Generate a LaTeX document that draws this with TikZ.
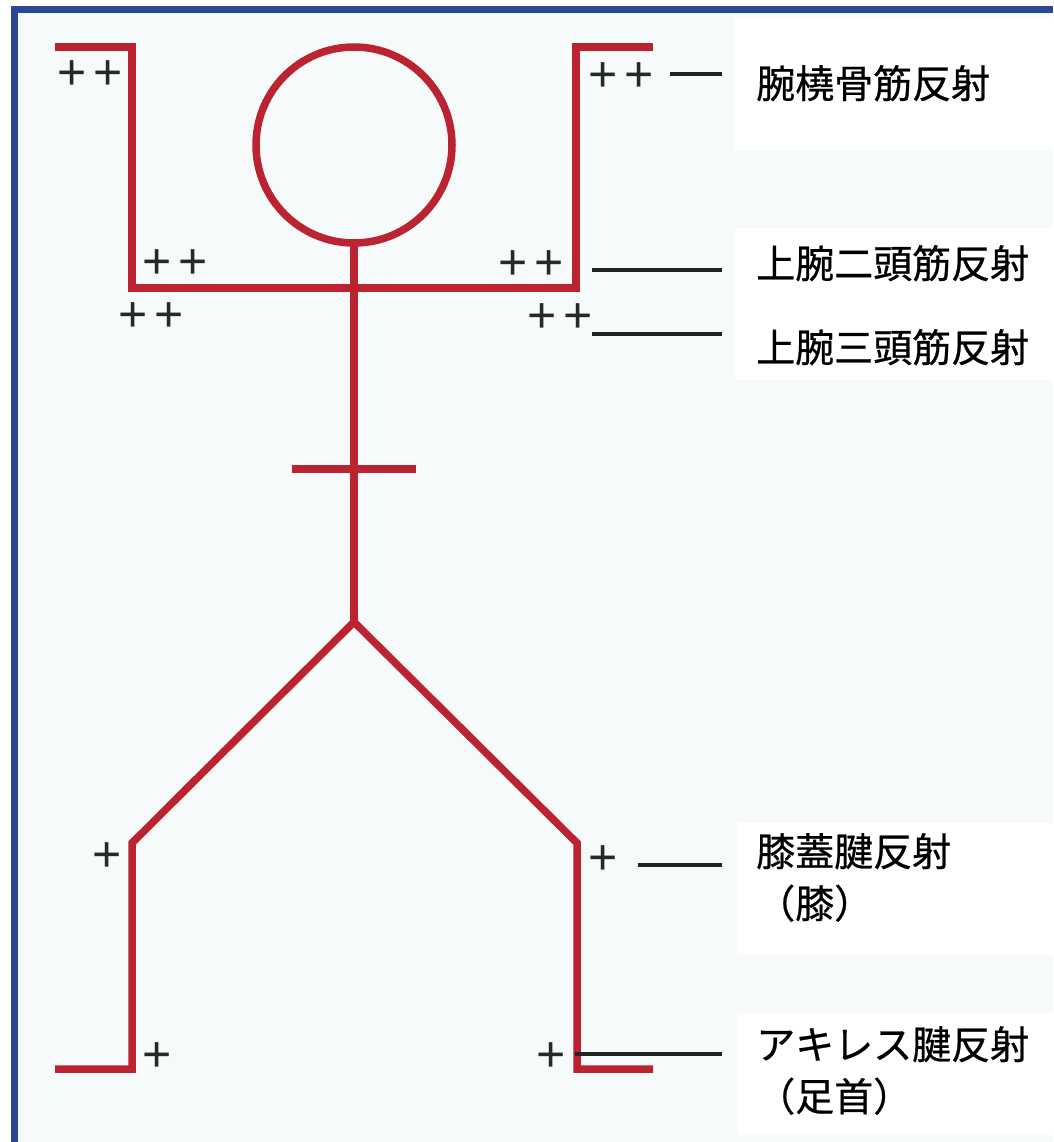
\documentclass[tikz,border=0pt]{standalone}
\usepackage{fontspec}
\newfontfamily\jp[FakeBold=0.6]{Noto Sans CJK JP}
\newfontfamily\plusfont{Liberation Sans}
\definecolor{figred}{RGB}{188,35,48}
\definecolor{frameblue}{RGB}{42,72,150}
\definecolor{bgcol}{RGB}{247,250,251}
\definecolor{leadcol}{RGB}{35,35,35}
\definecolor{pluscol}{RGB}{40,40,40}
\begin{document}
\begin{tikzpicture}[x=1pt,y=-1pt,
  body/.style={draw=figred,line width=7.5pt,line join=miter},
  lead/.style={draw=leadcol,line width=4pt},
  pluses/.style={font=\plusfont\fontsize{50}{50}\selectfont,text=pluscol,inner sep=0pt},
  label/.style={font=\jp\fontsize{39}{52}\selectfont,anchor=base west,inner sep=0pt},
  whitebox/.style={fill=white,draw=none}]
\useasboundingbox (0,0) rectangle (1053,1142);
\fill[white] (0,0) rectangle (1053,1142);
\fill[bgcol] (14,10) rectangle (1053,1142);
% white label panels
\fill[whitebox] (735,17) rectangle (1053,150);
\fill[whitebox] (735,228) rectangle (1053,380);
\fill[whitebox] (737,823) rectangle (1053,955);
\fill[whitebox] (737,1013) rectangle (1053,1135);
% frame
\draw[frameblue,line width=7pt] (14,1142) -- (14,10) -- (1053,10);

% figure
\coordinate (lhand) at (55,47);
\coordinate (lelbow) at (132,47);
\coordinate (lshoulder) at (132,288);
\coordinate (rshoulder) at (576,288);
\coordinate (relbow) at (576,47);
\coordinate (rhand) at (653,47);
\coordinate (headc) at (354,145);
\coordinate (chin) at (354,243);
\coordinate (hip) at (354,622);
\coordinate (waistl) at (292,469);
\coordinate (waistr) at (416,469);
\coordinate (lknee) at (132,843);
\coordinate (lankle) at (132,1069);
\coordinate (ltoe) at (55,1069);
\coordinate (rknee) at (577,843);
\coordinate (rankle) at (577,1069);
\coordinate (rtoe) at (653,1069);

\draw[body] (lhand) -- (lelbow) -- (lshoulder) -- (rshoulder) -- (relbow) -- (rhand);
\draw[body] (headc) circle[radius=98];
\draw[body] (chin) -- (hip);
\draw[body] (waistl) -- (waistr);
\draw[body] (ltoe) -- (lankle) -- (lknee) -- (hip) -- (rknee) -- (rankle) -- (rtoe);

% plus marks
\node[pluses] (p1) at (90,75) {+\hspace{7pt}+};
\node[pluses] (p2) at (175,264) {+\hspace{7pt}+};
\node[pluses] (p3) at (151,317) {+\hspace{7pt}+};
\node[pluses] (p4) at (621,77) {+\hspace{7pt}+};
\node[pluses] (p5) at (531,265) {+\hspace{7pt}+};
\node[pluses] (p6) at (560,318) {+\hspace{7pt}+};
\node[pluses] (p7) at (107,857) {+};
\node[pluses] (p8) at (157,1057) {+};
\node[pluses] (p9) at (603,860) {+};
\node[pluses] (p10) at (551,1057) {+};

% labels
\node[label] (t1) at (756,98) {腕橈骨筋反射};
\node[label] (t2) at (756,278) {上腕二頭筋反射};
\node[label] (t3) at (756,362) {上腕三頭筋反射};
\node[label] (t4) at (756,866) {膝蓋腱反射};
\node[label] (t4b) at (756,918) {（膝）};
\node[label] (t5) at (756,1059) {アキレス腱反射};
\node[label] (t5b) at (756,1111) {（足首）};

% leader lines
\coordinate (a1) at (670,74);  \coordinate (b1) at (722,74);
\coordinate (a2) at (592,270); \coordinate (b2) at (722,270);
\coordinate (a3) at (592,334); \coordinate (b3) at (722,334);
\coordinate (a4) at (638,865); \coordinate (b4) at (722,865);
\coordinate (a5) at (575,1054); \coordinate (b5) at (722,1054);
\draw[lead] (a1) -- (b1);
\draw[lead] (a2) -- (b2);
\draw[lead] (a3) -- (b3);
\draw[lead] (a4) -- (b4);
\draw[lead] (a5) -- (b5);
\end{tikzpicture}
\end{document}
